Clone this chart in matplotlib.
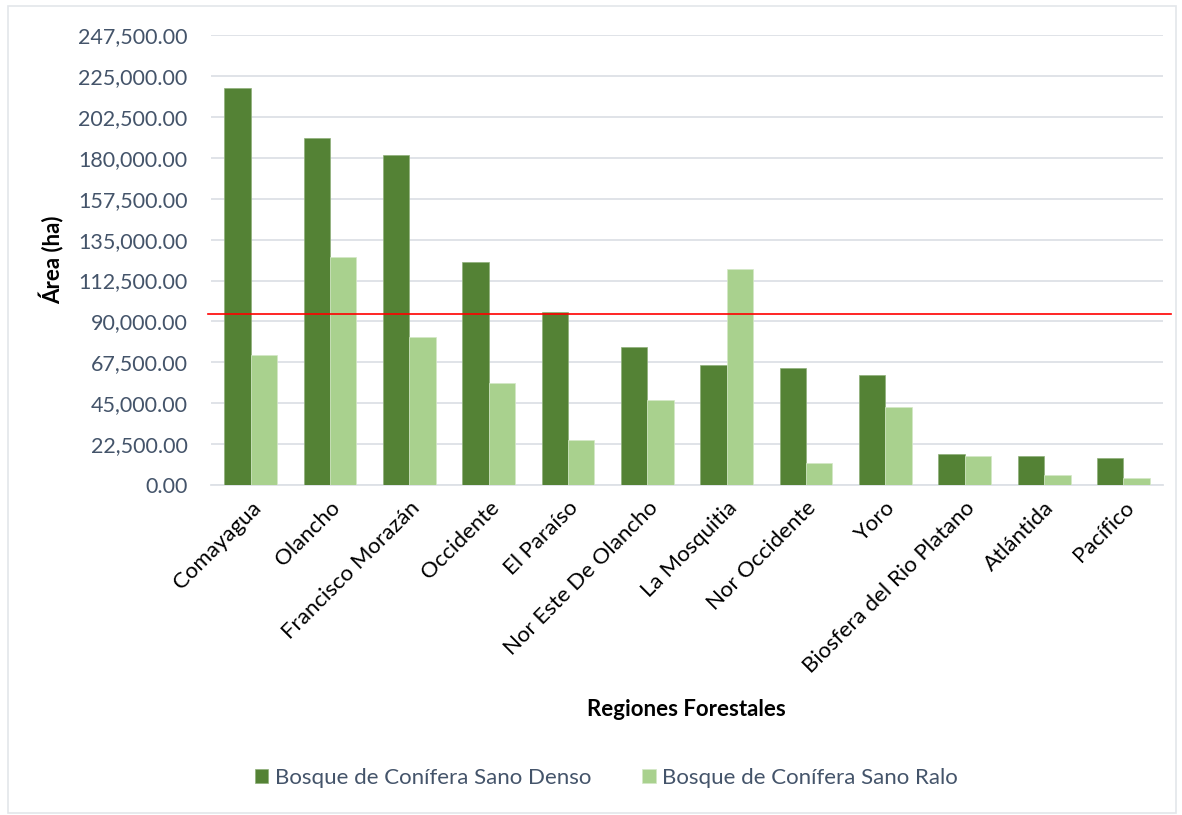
import numpy as np
import matplotlib.pyplot as plt
from matplotlib.patches import Rectangle
from matplotlib.ticker import FuncFormatter

plt.rcParams['font.family'] = ['Lato', 'DejaVu Sans']

regiones = ["Comayagua", "Olancho", "Francisco Morazán", "Occidente",
            "El Paraíso", "Nor Este De Olancho", "La Mosquitia",
            "Nor Occidente", "Yoro", "Biosfera del Rio Platano",
            "Atlántida", "Pacífico"]
sano_denso = [218350, 190800, 181500, 122570, 95100, 76100,
              66050, 64400, 60400, 17200, 15950, 14700]
sano_ralo = [71400, 125600, 81600, 56200, 24600, 46800,
             118700, 12100, 42900, 15800, 5300, 3900]
linea_ref = 94000
y_ticks = np.arange(0, 247500 + 1, 22500)

DARK = "#548235"
LIGHT = "#A9D18E"
TICK_COLOR = "#44546A"
GRID_COLOR = "#DDE1E6"

fig = plt.figure(figsize=(11.82, 8.15), dpi=100)
ax = fig.add_axes([0.1785, 0.4049, 0.8055, 0.5518])

x = np.arange(len(regiones))
w = 1 / 3
ax.bar(x - w / 2, sano_denso, w, color=DARK, edgecolor="#8FB07A",
       linewidth=0.5, label="Bosque de Conífera Sano Denso", zorder=3)
ax.bar(x + w / 2, sano_ralo, w, color=LIGHT, edgecolor="#D4E8C6",
       linewidth=0.5, label="Bosque de Conífera Sano Ralo", zorder=3)

ax.axhline(linea_ref, xmin=-0.003, xmax=1.008, color="red",
           linewidth=1.2, clip_on=False, zorder=4)

ax.set_xlim(-0.5, len(regiones) - 0.5)
ax.set_ylim(0, 247500)
ax.set_yticks(y_ticks)
ax.yaxis.set_major_formatter(FuncFormatter(lambda v, p: f"{v:,.2f}"))
ax.grid(axis="y", color=GRID_COLOR, linewidth=1.3, zorder=0)
for s in ["top", "right", "left"]:
    ax.spines[s].set_visible(False)
ax.spines["bottom"].set_color(GRID_COLOR)
ax.spines["bottom"].set_linewidth(1.3)
ax.tick_params(axis="both", length=0)
ax.tick_params(axis="y", labelsize=15.5, labelcolor=TICK_COLOR, pad=17)

ax.set_xticks(x)
ax.set_xticklabels(regiones, rotation=45, ha="right", va="top",
                   rotation_mode="anchor", fontsize=16, color="black")
ax.tick_params(axis="x", pad=9)

ax.set_ylabel("Área (ha)", fontsize=16, fontweight="bold", labelpad=10)
fig.text(0.581, 0.129, "Regiones Forestales", fontsize=16,
         fontweight="bold", ha="center", va="center")

fig.legend(loc="center", bbox_to_anchor=(0.513, 0.046), ncol=2,
           frameon=False, fontsize=16, handlelength=0.6, handleheight=0.6,
           handletextpad=0.3, columnspacing=2.3, labelcolor=TICK_COLOR)

# borde del área del gráfico
fig.patches.append(Rectangle((8 / 1182, 2 / 815), 1168 / 1182, 807 / 815,
                             transform=fig.transFigure, fill=False,
                             edgecolor="#E3E6EA", linewidth=1.2))

fig.savefig("out.png", dpi=100)
